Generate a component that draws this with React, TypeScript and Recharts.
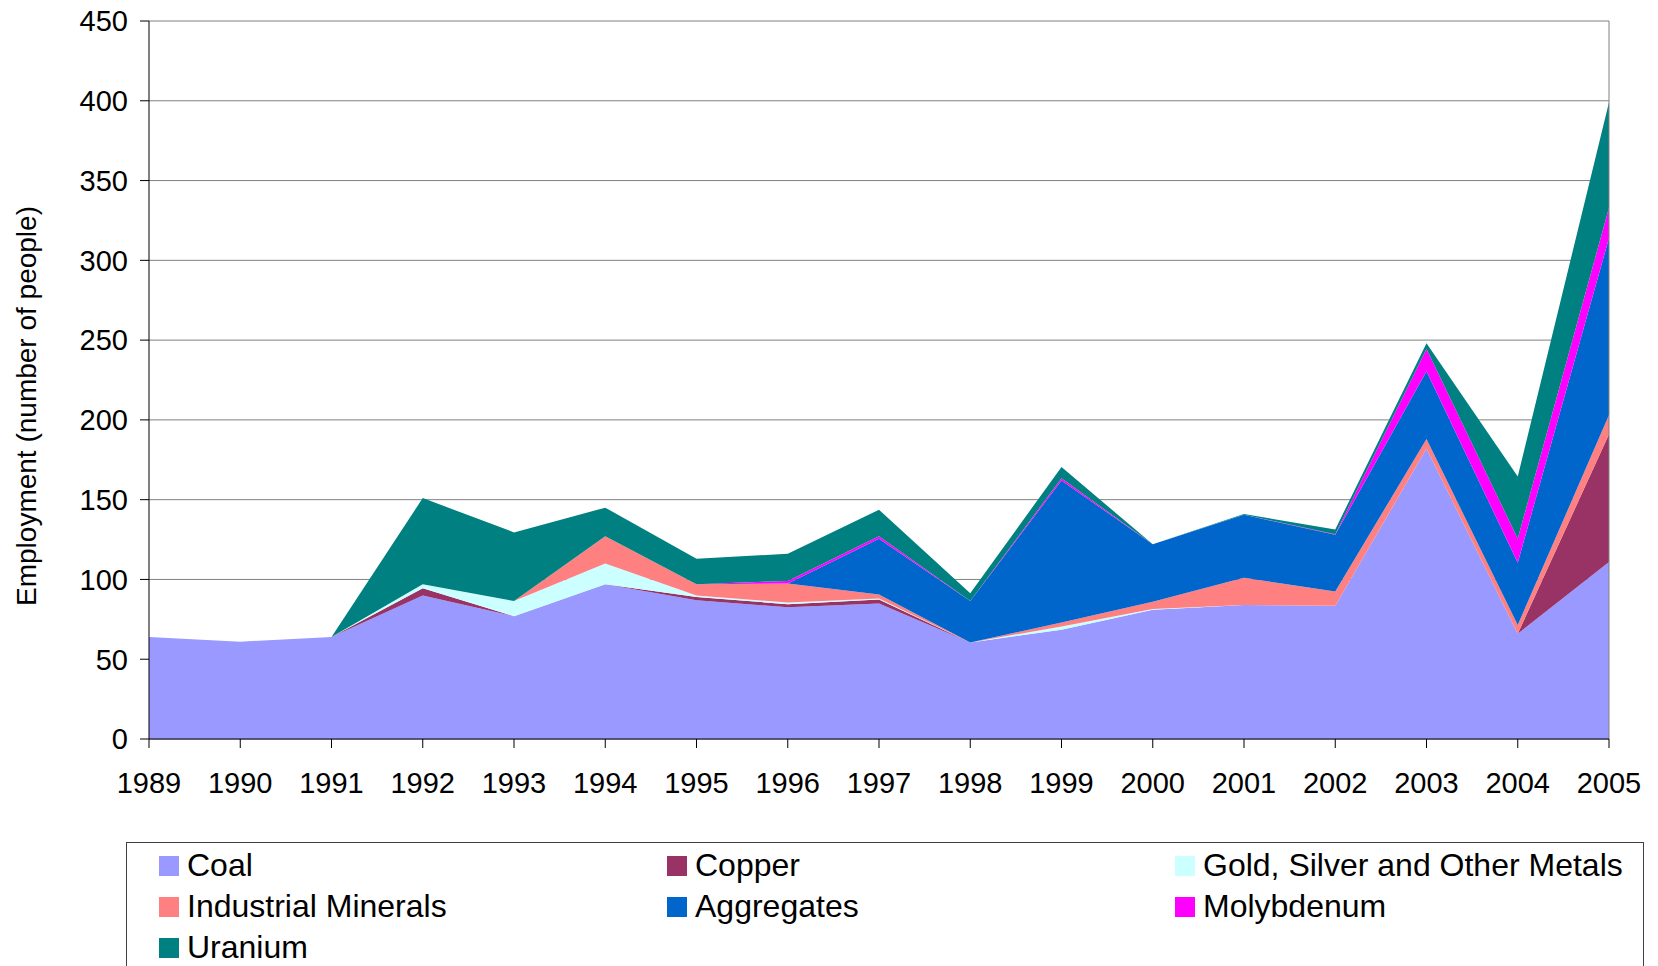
import { AreaChart, Area, XAxis, YAxis, CartesianGrid, Legend, ReferenceLine } from 'recharts';

const FONT = '"Liberation Sans", Arial, Helvetica, sans-serif';

// years on the x axis
const YEARS = [
  '1989', '1990', '1991', '1992', '1993', '1994', '1995', '1996', '1997',
  '1998', '1999', '2000', '2001', '2002', '2003', '2004', '2005',
];

// employment per sector (number of people), stacked bottom -> top
const COAL = [64, 61, 64, 90, 77, 97, 87, 82.5, 85, 60.5, 68.5, 81, 84, 83.5, 182, 66, 111];
const COPPER = [0, 0, 0, 4.5, 0, 0, 2, 2, 2.5, 0, 0, 0, 0, 0, 0, 0, 80];
const GOLD = [0, 0, 0, 2.5, 9.5, 13, 1, 1, 0.5, 0, 2, 0.5, 0, 0, 0, 0, 0];
const INDUSTRIAL = [0, 0, 0, 0, 0, 17, 7, 12, 2.5, 0, 2.5, 4.5, 17, 9, 6, 5.5, 12];
const AGGREGATES = [0, 0, 0, 0, 0, 0, 0, 0, 35, 26, 89, 36, 39.5, 35.5, 42.5, 39, 111];
const MOLYBDENUM = [0, 0, 0, 0, 0, 0, 0, 1.6, 1.6, 0, 1.5, 0, 0, 0.3, 14, 15, 19];
const URANIUM = [0, 0, 0, 54, 43, 18, 16, 17, 16.6, 4.8, 7, 0, 0.5, 3, 3.5, 39, 66];

const Y_TICKS = [0, 50, 100, 150, 200, 250, 300, 350, 400, 450];

const SERIES = [
  { key: 'coal', name: 'Coal', color: '#9999FF', values: COAL },
  { key: 'copper', name: 'Copper', color: '#993366', values: COPPER },
  { key: 'gold', name: 'Gold, Silver and Other Metals', color: '#CCFFFF', values: GOLD },
  { key: 'industrial', name: 'Industrial Minerals', color: '#FF8080', values: INDUSTRIAL },
  { key: 'aggregates', name: 'Aggregates', color: '#0066CC', values: AGGREGATES },
  { key: 'molybdenum', name: 'Molybdenum', color: '#FF00FF', values: MOLYBDENUM },
  { key: 'uranium', name: 'Uranium', color: '#008080', values: URANIUM },
];

const data = YEARS.map((year, i) => {
  const row: Record<string, string | number> = { year };
  SERIES.forEach((s) => {
    row[s.key] = s.values[i];
  });
  return row;
});

function YTitle() {
  return (
    <text
      x={36}
      y={406}
      transform="rotate(-90 36 406)"
      textAnchor="middle"
      fontSize={28}
      fontFamily={FONT}
      fill="#000"
    >
      Employment (number of people)
    </text>
  );
}

function LegendBox() {
  return (
    <div
      style={{
        position: 'absolute',
        left: 0,
        top: 0,
        width: 1518,
        height: 140,
        boxSizing: 'border-box',
        border: '1px solid #404040',
        background: '#fff',
        paddingTop: 2,
        paddingLeft: 32,
        display: 'grid',
        gridTemplateColumns: '508px 508px 508px',
        gridAutoRows: '41px',
        fontFamily: FONT,
        fontSize: 32,
        color: '#000',
      }}
    >
      {SERIES.map((s) => (
        <div key={s.key} style={{ display: 'flex', alignItems: 'center', whiteSpace: 'nowrap' }}>
          <span style={{ width: 20, height: 20, background: s.color, marginRight: 8, flex: 'none' }} />
          <span style={{ lineHeight: '41px' }}>{s.name}</span>
        </div>
      ))}
    </div>
  );
}

export default function App() {
  return (
    <div
      style={{
        position: 'absolute',
        left: 0,
        top: 0,
        width: 1658,
        height: 966,
        overflow: 'hidden',
        background: '#fff',
      }}
    >
      <AreaChart width={1658} height={966} data={data} margin={{ top: 21, right: 49, bottom: 167, left: 0 }}>
        <CartesianGrid vertical={false} stroke="#808080" />
        <XAxis
          dataKey="year"
          height={60}
          interval={0}
          tickSize={9}
          tickMargin={24}
          tick={{ fontSize: 29, fill: '#000', fontFamily: FONT }}
          axisLine={{ stroke: '#000' }}
          tickLine={{ stroke: '#000' }}
        />
        <YAxis
          width={149}
          domain={[0, 450]}
          ticks={Y_TICKS}
          interval={0}
          tickSize={9}
          tickMargin={12}
          tick={{ fontSize: 29, fill: '#000', fontFamily: FONT }}
          axisLine={{ stroke: '#000' }}
          tickLine={{ stroke: '#000' }}
          label={{ value: 'Employment (number of people)', content: <YTitle /> }}
        />
        {SERIES.map((s) => (
          <Area
            key={s.key}
            type="linear"
            dataKey={s.key}
            name={s.name}
            stackId="1"
            stroke="none"
            fill={s.color}
            fillOpacity={1}
            isAnimationActive={false}
          />
        ))}
        <ReferenceLine x="2005" stroke="#808080" />
        <Legend
          content={<LegendBox />}
          wrapperStyle={{ left: 126, top: 842, bottom: 'auto', width: 1518, height: 0 }}
        />
      </AreaChart>
    </div>
  );
}
